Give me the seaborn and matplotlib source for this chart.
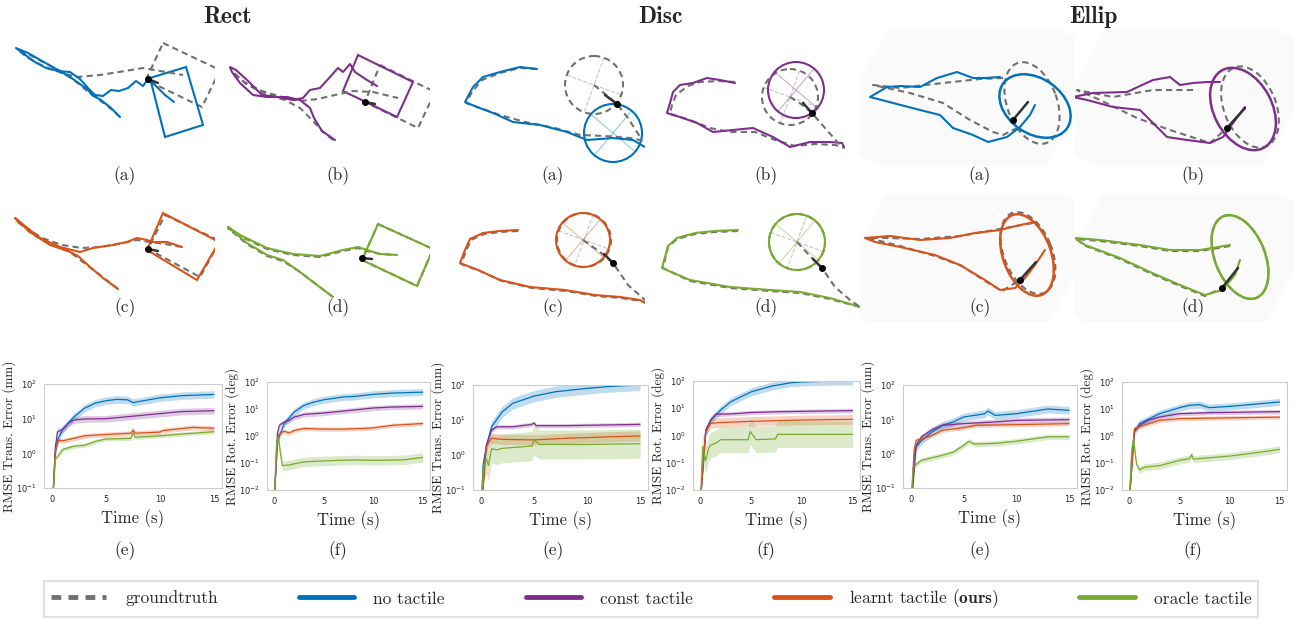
import numpy as np
import pandas as pd
import seaborn as sns
import matplotlib.pyplot as plt
from matplotlib.patches import Polygon, Circle, Ellipse
from matplotlib.lines import Line2D

# ---------------- data ----------------
LABELS = ["no tactile", "const tactile", "learnt tactile", "oracle tactile"]
COLORS = ["#0072BD", "#7E2F8E", "#D95319", "#77AC30"]
GT_COLOR = "#707070"
GROUPS = ["Rect", "Disc", "Ellip"]

# error curves: (time s, error)
RECT_TRANS_NO = [(0, 0.02), (0.3, 1.0), (0.5, 2.4), (1, 5), (2, 11), (3, 20), (4, 28), (5, 33), (6, 36), (7, 35), (7.5, 29), (8, 31), (10, 40), (12, 46), (15, 50)]
RECT_TRANS_CONST = [(0, 0.02), (0.3, 1.5), (0.5, 4.2), (1, 4.9), (1.5, 7.3), (2, 9.1), (3, 9.8), (5, 10), (7, 11.4), (10, 14), (12, 16), (15, 17)]
RECT_TRANS_LEARNT = [(0, 0.02), (0.3, 1.2), (0.6, 2.4), (1, 2.3), (2, 2.7), (3, 3.2), (5, 3.5), (7.3, 3.8), (7.5, 4.7), (7.7, 3.8), (10, 4.1), (10.2, 4.5), (13, 5.6), (15, 5.3)]
RECT_TRANS_ORACLE = [(0, 0.02), (0.3, 0.7), (0.5, 0.8), (1, 1.3), (2, 1.6), (3, 1.7), (4, 2.2), (5, 2.6), (7.3, 2.7), (7.5, 3.9), (7.7, 2.9), (10, 3.2), (12, 3.6), (15, 4.2)]
RECT_TRANS_BAND = [1.28, 1.25, 1.18, 1.15]

RECT_ROT_NO = [(0, 0.005), (0.3, 0.5), (0.5, 1.0), (1, 2.9), (2, 7.7), (3, 13.7), (4, 18), (5, 22), (7, 28), (8, 29), (10, 35), (12, 39), (15, 42)]
RECT_ROT_CONST = [(0, 0.005), (0.3, 1.2), (0.5, 2.5), (1, 3.3), (1.5, 3.8), (2, 5), (3, 6.3), (5, 7.1), (7, 8.4), (10, 10.9), (12, 11.8), (15, 12.5)]
RECT_ROT_LEARNT = [(0, 0.005), (0.3, 0.8), (0.5, 1.2), (1, 1.5), (1.5, 1.3), (2, 1.6), (3, 1.9), (5, 1.8), (7, 1.8), (9, 1.9), (10, 2.0), (12, 2.5), (15, 2.9)]
RECT_ROT_ORACLE = [(0, 0.005), (0.2, 0.4), (0.4, 0.9), (0.6, 0.25), (0.8, 0.08), (1.5, 0.085), (3, 0.11), (5, 0.12), (8, 0.13), (10, 0.125), (13, 0.13), (15, 0.16)]
RECT_ROT_BAND = [1.35, 1.25, 1.2, 1.5]

DISC_TRANS_NO = [(0, 0.02), (0.2, 0.5), (0.5, 1.7), (1, 6.4), (2, 17), (3, 30), (5, 48), (7, 64), (10, 80), (12, 90), (14, 97), (15, 100)]
DISC_TRANS_CONST = [(0, 0.02), (0.5, 1.9), (1, 5.2), (1.5, 6.4), (3, 6.4), (4.8, 7.5), (5, 8.2), (5.2, 6.9), (8, 6.9), (15, 7.5)]
DISC_TRANS_LEARNT = [(0, 0.02), (0.5, 1.7), (1, 3.0), (2, 2.8), (5, 2.7), (8, 3.0), (12, 3.3), (15, 3.5)]
DISC_TRANS_ORACLE = [(0, 0.02), (0.2, 0.37), (0.5, 0.8), (0.7, 0.5), (1, 1.5), (1.5, 1.4), (2, 1.55), (4.8, 1.8), (5, 2.7), (5.5, 2.0), (10, 2.0), (15, 2.1)]
DISC_TRANS_BAND = [1.45, 1.15, 1.4, 2.6]

DISC_ROT_NO = [(0, 0.005), (0.5, 1.2), (1, 3.7), (2, 8.7), (3, 17.5), (5, 40), (7, 65), (9, 87), (10, 92), (12, 97), (15, 100)]
DISC_ROT_CONST = [(0, 0.005), (0.5, 1.6), (1, 3.7), (1.5, 6), (3, 6.2), (5, 7), (8, 7.5), (15, 8.2)]
DISC_ROT_LEARNT = [(0, 0.005), (0.5, 1.4), (1, 2.8), (2, 3), (5, 3.3), (10, 3.7), (15, 3.9)]
DISC_ROT_ORACLE = [(0, 0.005), (0.2, 0.4), (0.5, 0.12), (0.8, 0.35), (1, 0.45), (1.5, 0.52), (2, 0.7), (4.7, 0.7), (4.9, 1.4), (5.5, 0.7), (7.4, 0.75), (7.6, 1.1), (15, 1.1)]
DISC_ROT_BAND = [1.4, 1.2, 1.5, 3.0]

ELLIP_TRANS_NO = [(0, 0.02), (0.3, 0.8), (0.5, 1.6), (1, 2.4), (2, 4.3), (3, 6.7), (4, 8.4), (5, 11.7), (6, 13), (7, 14.6), (7.3, 17.5), (8, 13), (10, 14.6), (13, 20), (15, 18.3)]
ELLIP_TRANS_CONST = [(0, 0.02), (0.5, 1.75), (1, 3.1), (2, 5), (3, 6.7), (5, 7.5), (8, 8.4), (10, 9.3), (15, 9.8)]
ELLIP_TRANS_LEARNT = [(0, 0.02), (0.3, 1.25), (0.5, 2.45), (1, 2.7), (2, 3.4), (3, 4.8), (5, 5.7), (6.2, 6.7), (10, 7), (15, 7.5)]
ELLIP_TRANS_ORACLE = [(0, 0.02), (0.2, 0.4), (0.4, 0.46), (1, 0.64), (2, 0.76), (3, 0.9), (4, 1.1), (5, 1.75), (5.5, 2.3), (6, 1.9), (8, 2.0), (10, 2.3), (13, 3.1), (15, 3.1)]
ELLIP_TRANS_BAND = [1.3, 1.2, 1.15, 1.2]

ELLIP_ROT_NO = [(0, 0.005), (0.3, 0.4), (0.5, 1.4), (1, 2.9), (2, 4.4), (3, 6.7), (5, 11.2), (6, 13.7), (7, 14.5), (8, 11.2), (10, 12.5), (12, 14.5), (15, 18.2)]
ELLIP_ROT_CONST = [(0, 0.005), (0.5, 1.6), (1, 2.5), (2, 4), (3, 5), (5, 6.7), (8, 7.3), (15, 8)]
ELLIP_ROT_LEARNT = [(0, 0.005), (0.5, 1.9), (1, 2.2), (2, 2.9), (3, 3.8), (5, 4.4), (8, 4.6), (15, 5)]
ELLIP_ROT_ORACLE = [(0, 0.005), (0.2, 0.22), (0.4, 0.8), (0.7, 0.09), (1, 0.056), (1.5, 0.07), (3, 0.08), (5, 0.125), (6, 0.145), (6.2, 0.2), (6.4, 0.14), (10, 0.18), (13, 0.25), (15, 0.32)]
ELLIP_ROT_BAND = [1.35, 1.2, 1.2, 1.35]

# trajectories (picture pixel coordinates)
RECT_A_GT = [(120, 117), (110, 108), (98, 99), (86, 90), (74, 80), (60, 71), (45, 63), (30, 55), (18, 50), (28, 58), (45, 67), (62, 73), (77, 77), (100, 75), (125, 71), (143, 68), (160, 71), (183, 75)]
RECT_A_EST = [(120, 117), (111, 108), (101, 100), (92, 95), (88, 90), (80, 84), (70, 77), (58, 70), (42, 61), (28, 53), (16, 48), (24, 54), (35, 62), (46, 68), (58, 71), (70, 72), (80, 79), (88, 88), (95, 95), (103, 96), (111, 90), (119, 91), (128, 88), (136, 81), (143, 86), (148, 79), (156, 86), (165, 95), (174, 102)]
RECT_A_BOX_GT = [(163, 43), (220, 70), (202, 107), (146, 80)]
RECT_A_BOX_EST = [(150, 78), (186, 67), (203, 125), (165, 137)]
RECT_A_DOT = [(148, 79), (158, 83)]

RECT_B_GT = [(333, 140), (322, 131), (312, 120), (300, 108), (285, 100), (265, 94), (248, 85), (238, 77), (233, 72), (245, 83), (262, 91), (282, 97), (300, 101), (318, 99), (335, 95), (353, 91), (373, 92), (398, 98)]
RECT_B_EST = [(335, 140), (322, 131), (314, 118), (310, 108), (300, 100), (287, 97), (267, 97), (253, 95), (240, 83), (232, 72), (230, 67), (236, 70), (247, 80), (262, 95), (277, 97), (293, 100), (303, 98), (310, 90), (320, 88), (330, 77), (338, 68), (343, 72), (350, 64), (355, 72), (367, 80), (377, 86)]
RECT_B_BOX_GT = [(380, 65), (435, 92), (418, 128), (365, 102)]
RECT_B_BOX_EST = [(358, 55), (413, 82), (397, 117), (343, 91)]
RECT_B_DOT = [(365, 102), (375, 104)]

RECT_C_GT = [(118, 289), (100, 275), (83, 262), (70, 252), (50, 244), (32, 234), (16, 220), (22, 225), (42, 238), (62, 245), (82, 248), (100, 247), (118, 244), (137, 240), (150, 242), (165, 244), (182, 247)]
RECT_C_EST = [(118, 289), (103, 278), (90, 267), (78, 256), (68, 251), (50, 245), (30, 232), (15, 218), (20, 222), (40, 238), (60, 247), (80, 252), (93, 248), (113, 245), (127, 242), (137, 238), (147, 240), (153, 242), (167, 242), (182, 247)]
RECT_C_BOX_GT = [(165, 215), (220, 241), (200, 277), (148, 249)]
RECT_C_BOX_EST = [(163, 213), (219, 242), (197, 280), (147, 250)]
RECT_C_DOT = [(148, 249), (158, 251)]

RECT_D_GT = [(333, 297), (317, 285), (300, 272), (283, 261), (267, 256), (247, 244), (228, 228), (240, 236), (267, 249), (293, 255), (320, 257), (343, 251), (358, 248), (367, 251), (380, 254), (397, 255)]
RECT_D_EST = [(333, 297), (317, 285), (300, 272), (283, 260), (267, 255), (247, 243), (228, 227), (240, 235), (267, 248), (293, 254), (320, 256), (343, 250), (358, 247), (367, 250), (380, 254), (397, 255)]
RECT_D_BOX_GT = [(378, 224), (433, 249), (417, 286), (362, 260)]
RECT_D_BOX_EST = [(378, 224), (433, 249), (417, 286), (362, 260)]
RECT_D_DOT = [(362, 258), (372, 259)]

DISC_A_GT = [(537, 69), (520, 68), (500, 73), (482, 80), (472, 92), (466, 103), (480, 108), (500, 115), (525, 122), (555, 128), (580, 135), (605, 136), (630, 138), (650, 142)]
DISC_A_EST = [(537, 69), (520, 67), (500, 72), (483, 77), (473, 87), (465, 102), (477, 107), (493, 113), (513, 122), (540, 125), (567, 132), (587, 140), (613, 138), (633, 140), (650, 150)]
DISC_A_PUSH = [(594, 85), (605, 94), (617, 104), (628, 118), (642, 140)]
DISC_A_CIRC_GT = (594, 85, 29)
DISC_A_CIRC_EST = (613, 133, 29)
DISC_A_DOT = [(617, 104), (605, 95)]

DISC_B_GT = [(735, 82), (718, 81), (700, 82), (688, 86), (676, 95), (672, 105), (670, 114), (690, 120), (710, 128), (730, 132), (755, 132), (775, 140), (795, 146), (815, 144), (835, 145), (845, 148)]
DISC_B_EST = [(735, 83), (720, 80), (707, 78), (693, 83), (680, 85), (673, 92), (670, 103), (667, 113), (680, 117), (697, 123), (713, 132), (733, 130), (753, 128), (773, 137), (790, 147), (810, 142), (830, 142), (842, 143), (844, 147)]
DISC_B_PUSH = [(790, 97), (801, 104), (812, 113), (825, 128), (840, 145)]
DISC_B_CIRC_GT = (790, 97, 28)
DISC_B_CIRC_EST = (796, 90, 28)
DISC_B_DOT = [(812, 113), (803, 103)]

DISC_C_GT = [(518, 231), (500, 232), (484, 234), (471, 240), (466, 251), (461, 264), (480, 271), (502, 281), (532, 288), (566, 291), (596, 296), (621, 298), (641, 301), (652, 306)]
DISC_C_EST = [(518, 230), (500, 231), (483, 233), (470, 239), (465, 250), (460, 263), (478, 270), (500, 280), (530, 287), (565, 290), (595, 295), (620, 297), (640, 300), (652, 306)]
DISC_C_PUSH = [(583, 240), (600, 252), (613, 263), (628, 285), (645, 300)]
DISC_C_CIRC_GT = (584, 240, 27)
DISC_C_CIRC_EST = (583, 240, 27)
DISC_C_DOT = [(613, 263), (604, 254)]

DISC_D_GT = [(738, 231), (715, 232), (695, 234), (677, 239), (668, 247), (663, 268), (690, 281), (730, 288), (770, 291), (800, 293), (830, 299), (860, 307)]
DISC_D_EST = [(738, 230), (715, 231), (695, 233), (677, 238), (668, 246), (662, 268), (690, 280), (730, 287), (770, 290), (800, 292), (830, 298), (860, 307)]
DISC_D_PUSH = [(797, 242), (810, 256), (822, 268), (835, 287), (850, 300), (860, 307)]
DISC_D_CIRC_GT = (797, 242, 28)
DISC_D_CIRC_EST = (797, 242, 28)
DISC_D_DOT = [(822, 268), (813, 259)]

ELLIP_A_GT = [(1003, 78), (980, 79), (943, 83), (900, 88), (873, 85), (910, 93), (943, 103), (970, 120), (993, 132), (1003, 135), (1017, 128), (1013, 120)]
ELLIP_A_EST = [(1000, 77), (985, 78), (973, 78), (957, 72), (937, 78), (920, 87), (900, 86), (887, 87), (870, 97), (893, 103), (920, 110), (940, 115), (953, 128), (973, 135), (988, 142), (1007, 137), (1020, 127), (1030, 115), (1035, 105)]
ELLIP_A_ELL_GT = (1032, 103, 85, 50, 70)
ELLIP_A_ELL_EST = (1035, 106, 78, 55, 35)
ELLIP_A_DOT = [(1013, 120), (1028, 102)]

ELLIP_B_GT = [(1193, 90), (1153, 90), (1113, 97), (1077, 90), (1100, 100), (1137, 118), (1170, 130), (1210, 143), (1227, 128)]
ELLIP_B_EST = [(1220, 82), (1207, 82), (1193, 83), (1180, 85), (1170, 77), (1153, 80), (1127, 92), (1093, 93), (1073, 97), (1087, 100), (1113, 107), (1140, 110), (1153, 123), (1167, 137), (1187, 140), (1210, 143), (1223, 137), (1233, 123), (1245, 107)]
ELLIP_B_ELL_GT = (1250, 107, 85, 52, 68)
ELLIP_B_ELL_EST = (1243, 109, 88, 58, 62)
ELLIP_B_DOT = [(1227, 128), (1245, 108)]

ELLIP_C_GT = [(1033, 223), (1000, 229), (960, 236), (920, 239), (885, 238), (868, 238), (900, 246), (935, 256), (962, 266), (985, 281), (1002, 291), (1020, 280)]
ELLIP_C_EST = [(1035, 222), (1020, 225), (1000, 230), (975, 233), (950, 238), (920, 240), (890, 236), (865, 238), (875, 242), (900, 247), (935, 255), (960, 265), (985, 280), (1000, 290), (1015, 288), (1025, 278), (1035, 265), (1045, 250)]
ELLIP_C_ELL_GT = (1028, 253, 86, 48, 68)
ELLIP_C_ELL_EST = (1027, 255, 85, 48, 70)
ELLIP_C_DOT = [(1020, 280), (1036, 262)]

ELLIP_D_GT = [(1230, 246), (1200, 251), (1170, 251), (1140, 246), (1100, 241), (1076, 239), (1086, 246), (1120, 259), (1150, 273), (1180, 286), (1205, 296), (1222, 288)]
ELLIP_D_EST = [(1230, 245), (1200, 250), (1170, 250), (1140, 245), (1100, 240), (1075, 238), (1085, 245), (1120, 258), (1150, 272), (1180, 285), (1205, 295), (1222, 290), (1235, 275), (1240, 260)]
ELLIP_D_ELL_GT = (1240, 257, 88, 50, 68)
ELLIP_D_ELL_EST = (1240, 257, 88, 50, 68)
ELLIP_D_DOT = [(1222, 288), (1238, 268)]

# ---------------- style ----------------
sns.set_style("white", {"axes.edgecolor": ".8"})
plt.rcParams["font.family"] = ["DejaVu Sans"]
plt.rcParams["mathtext.fontset"] = "cm"
SERIF = "cmr10"

W, H = 1294, 620
fig = plt.figure(figsize=(W / 100, H / 100), dpi=100)


def box_axes(x0, y0, x1, y1, shade=False):
    ax = fig.add_axes([x0 / W, 1 - y1 / H, (x1 - x0) / W, (y1 - y0) / H])
    ax.set_xlim(x0, x1)
    ax.set_ylim(y1, y0)
    ax.axis("off")
    if shade:
        # faint rotated backdrop of the rendered scene
        cx, cy = (x0 + x1) / 2, (y0 + y1) / 2
        side, ang = 205, np.radians(28)
        corners = [(-1, -1), (1, -1), (1, 1), (-1, 1)]
        pts = [(cx + side / 2 * (u * np.cos(ang) - v * np.sin(ang)),
                cy + side / 2 * (u * np.sin(ang) + v * np.cos(ang))) for u, v in corners]
        ax.add_patch(Polygon(pts, closed=True, fc="#fafafa", ec="none", zorder=0))
    return ax


def draw_path(ax, pts, color, dashed=False, lw=1.5, alpha=1.0):
    xy = np.array(pts)
    if dashed:
        ax.plot(xy[:, 0], xy[:, 1], color=GT_COLOR, lw=lw, dashes=(3, 2), alpha=alpha)
    else:
        ax.plot(xy[:, 0], xy[:, 1], color=color, lw=lw, alpha=alpha)


def draw_dot(ax, dot):
    xy = np.array(dot)
    ax.plot(xy[:, 0], xy[:, 1], color="#333333", lw=1.8, zorder=6)
    ax.plot(xy[0, 0], xy[0, 1], "o", color="black", ms=4, zorder=7)


def rect_panel(box, gt, est, bgt, best, dot, color):
    ax = box_axes(*box)
    draw_path(ax, gt, color, dashed=True)
    draw_path(ax, est, color)
    ax.add_patch(Polygon(bgt, closed=True, fill=False, ec=GT_COLOR, lw=1.5, ls=(0, (3, 2))))
    ax.add_patch(Polygon(best, closed=True, fill=False, ec=color, lw=1.5))
    draw_dot(ax, dot)


def disc_panel(box, gt, est, push, cgt, cest, dot, color):
    ax = box_axes(*box)
    for (cx, cy, r), col, ang in [(cgt, GT_COLOR, 20), (cest, color, 40)]:
        for a in (ang, ang + 90):
            dx, dy = r * np.cos(np.radians(a)), r * np.sin(np.radians(a))
            ax.plot([cx - dx, cx + dx], [cy - dy, cy + dy], color=col, lw=0.8, alpha=0.4,
                    ls="--" if col == GT_COLOR else "-")
    draw_path(ax, gt, color, dashed=True)
    draw_path(ax, est, color)
    draw_path(ax, push, color, dashed=True)
    ax.add_patch(Circle(cgt[:2], cgt[2], fill=False, ec=GT_COLOR, lw=1.5, ls=(0, (3, 2))))
    ax.add_patch(Circle(cest[:2], cest[2], fill=False, ec=color, lw=1.5))
    draw_dot(ax, dot)


def ellip_panel(box, gt, est, egt, eest, dot, color):
    ax = box_axes(*box, shade=True)
    draw_path(ax, gt, color, dashed=True)
    draw_path(ax, est, color)
    cx, cy, a, b, ang = egt
    ax.add_patch(Ellipse((cx, cy), a, b, angle=ang, fill=False, ec=GT_COLOR, lw=1.5, ls=(0, (3, 2))))
    cx, cy, a, b, ang = eest
    ax.add_patch(Ellipse((cx, cy), a, b, angle=ang, fill=False, ec=color, lw=1.8))
    draw_dot(ax, dot)


rect_panel((0, 28, 215, 165), RECT_A_GT, RECT_A_EST, RECT_A_BOX_GT, RECT_A_BOX_EST, RECT_A_DOT, COLORS[0])
rect_panel((215, 28, 430, 165), RECT_B_GT, RECT_B_EST, RECT_B_BOX_GT, RECT_B_BOX_EST, RECT_B_DOT, COLORS[1])
rect_panel((0, 195, 215, 322), RECT_C_GT, RECT_C_EST, RECT_C_BOX_GT, RECT_C_BOX_EST, RECT_C_DOT, COLORS[2])
rect_panel((215, 195, 430, 322), RECT_D_GT, RECT_D_EST, RECT_D_BOX_GT, RECT_D_BOX_EST, RECT_D_DOT, COLORS[3])

disc_panel((430, 28, 645, 165), DISC_A_GT, DISC_A_EST, DISC_A_PUSH, DISC_A_CIRC_GT, DISC_A_CIRC_EST, DISC_A_DOT, COLORS[0])
disc_panel((645, 28, 860, 165), DISC_B_GT, DISC_B_EST, DISC_B_PUSH, DISC_B_CIRC_GT, DISC_B_CIRC_EST, DISC_B_DOT, COLORS[1])
disc_panel((430, 195, 645, 322), DISC_C_GT, DISC_C_EST, DISC_C_PUSH, DISC_C_CIRC_GT, DISC_C_CIRC_EST, DISC_C_DOT, COLORS[2])
disc_panel((645, 195, 860, 322), DISC_D_GT, DISC_D_EST, DISC_D_PUSH, DISC_D_CIRC_GT, DISC_D_CIRC_EST, DISC_D_DOT, COLORS[3])

ellip_panel((860, 28, 1075, 165), ELLIP_A_GT, ELLIP_A_EST, ELLIP_A_ELL_GT, ELLIP_A_ELL_EST, ELLIP_A_DOT, COLORS[0])
ellip_panel((1075, 28, 1294, 165), ELLIP_B_GT, ELLIP_B_EST, ELLIP_B_ELL_GT, ELLIP_B_ELL_EST, ELLIP_B_DOT, COLORS[1])
ellip_panel((860, 195, 1075, 322), ELLIP_C_GT, ELLIP_C_EST, ELLIP_C_ELL_GT, ELLIP_C_ELL_EST, ELLIP_C_DOT, COLORS[2])
ellip_panel((1075, 195, 1294, 322), ELLIP_D_GT, ELLIP_D_EST, ELLIP_D_ELL_GT, ELLIP_D_ELL_EST, ELLIP_D_DOT, COLORS[3])


# ---------------- error plots ----------------
def err_panel(box, series, bands, ylim, ylabel):
    l, t, r, b = box
    ax = fig.add_axes([l / W, 1 - b / H, (r - l) / W, (b - t) / H])
    ax.set_yscale("log")
    for pts, band, color in zip(series, bands, COLORS):
        df = pd.DataFrame(pts, columns=["t", "err"])
        ax.fill_between(df["t"], df["err"] / band, df["err"] * band, color=color, alpha=0.25, lw=0)
        sns.lineplot(data=df, x="t", y="err", ax=ax, color=color, lw=0.9)
    ax.set_ylim(*ylim)
    ax.set_xlim(-0.75, 15.75)
    ax.set_xticks([0, 5, 10, 15])
    ax.tick_params(labelsize=6, pad=1.5, colors=".15")
    ax.set_xlabel("Time (s)", fontfamily=SERIF, fontsize=12, labelpad=4)
    ax.set_ylabel(ylabel, fontfamily=SERIF, fontsize=9.5)
    # right edge of the rotated label sits left of the tick labels
    ax.yaxis.set_label_coords(-28 / (r - l), 0.5)
    for s in ax.spines.values():
        s.set_linewidth(0.8)
    return ax


err_panel((44, 384, 222, 488), [RECT_TRANS_NO, RECT_TRANS_CONST, RECT_TRANS_LEARNT, RECT_TRANS_ORACLE], RECT_TRANS_BAND, (0.1, 100), "RMSE Trans. Error (mm)")
err_panel((267, 382, 430, 490), [RECT_ROT_NO, RECT_ROT_CONST, RECT_ROT_LEARNT, RECT_ROT_ORACLE], RECT_ROT_BAND, (0.01, 100), "RMSE Rot. Error (deg)")
err_panel((473, 385, 648, 490), [DISC_TRANS_NO, DISC_TRANS_CONST, DISC_TRANS_LEARNT, DISC_TRANS_ORACLE], DISC_TRANS_BAND, (0.1, 100), "RMSE Trans. Error (mm)")
err_panel((693, 381, 860, 490), [DISC_ROT_NO, DISC_ROT_CONST, DISC_ROT_LEARNT, DISC_ROT_ORACLE], DISC_ROT_BAND, (0.01, 100), "RMSE Rot. Error (deg)")
err_panel((903, 385, 1077, 488), [ELLIP_TRANS_NO, ELLIP_TRANS_CONST, ELLIP_TRANS_LEARNT, ELLIP_TRANS_ORACLE], ELLIP_TRANS_BAND, (0.1, 100), "RMSE Trans. Error (mm)")
err_panel((1122, 382, 1287, 490), [ELLIP_ROT_NO, ELLIP_ROT_CONST, ELLIP_ROT_LEARNT, ELLIP_ROT_ORACLE], ELLIP_ROT_BAND, (0.01, 100), "RMSE Rot. Error (deg)")

# ---------------- texts ----------------
for name, x in zip(GROUPS, [228, 660, 1093]):
    fig.text(x / W, 1 - 17 / H, name, ha="center", va="center", fontfamily="cmb10", fontsize=17)

LETTER_X = [125, 338, 553, 766, 980, 1193]
for x, (top, mid, bot) in zip(LETTER_X, [("a", "c", "e"), ("b", "d", "f")] * 3):
    for y, letter in zip([176, 308, 551], [top, mid, bot]):
        fig.text(x / W, 1 - y / H, f"({letter})", ha="center", va="center", fontfamily=SERIF, fontsize=12.5)

handles = [Line2D([0], [0], color=GT_COLOR, lw=3.5, dashes=(2, 1.5))]
handles += [Line2D([0], [0], color=c, lw=3.5) for c in COLORS]
labels = ["groundtruth", "no tactile", "const tactile", r"learnt tactile ($\mathbf{ours}$)", "oracle tactile"]
leg = fig.legend(handles, labels, loc="center", ncol=5, mode="expand",
                 bbox_to_anchor=(35 / W, 1 - 615 / H, 1232 / W, 32 / H),
                 prop={"family": SERIF, "size": 12.5}, handlelength=3.2, handletextpad=1.1,
                 frameon=True, fancybox=False, borderpad=0.4)
leg.get_frame().set_edgecolor("#d9d9d9")
leg.get_frame().set_linewidth(1.5)

fig.savefig("out.png", dpi=100)
